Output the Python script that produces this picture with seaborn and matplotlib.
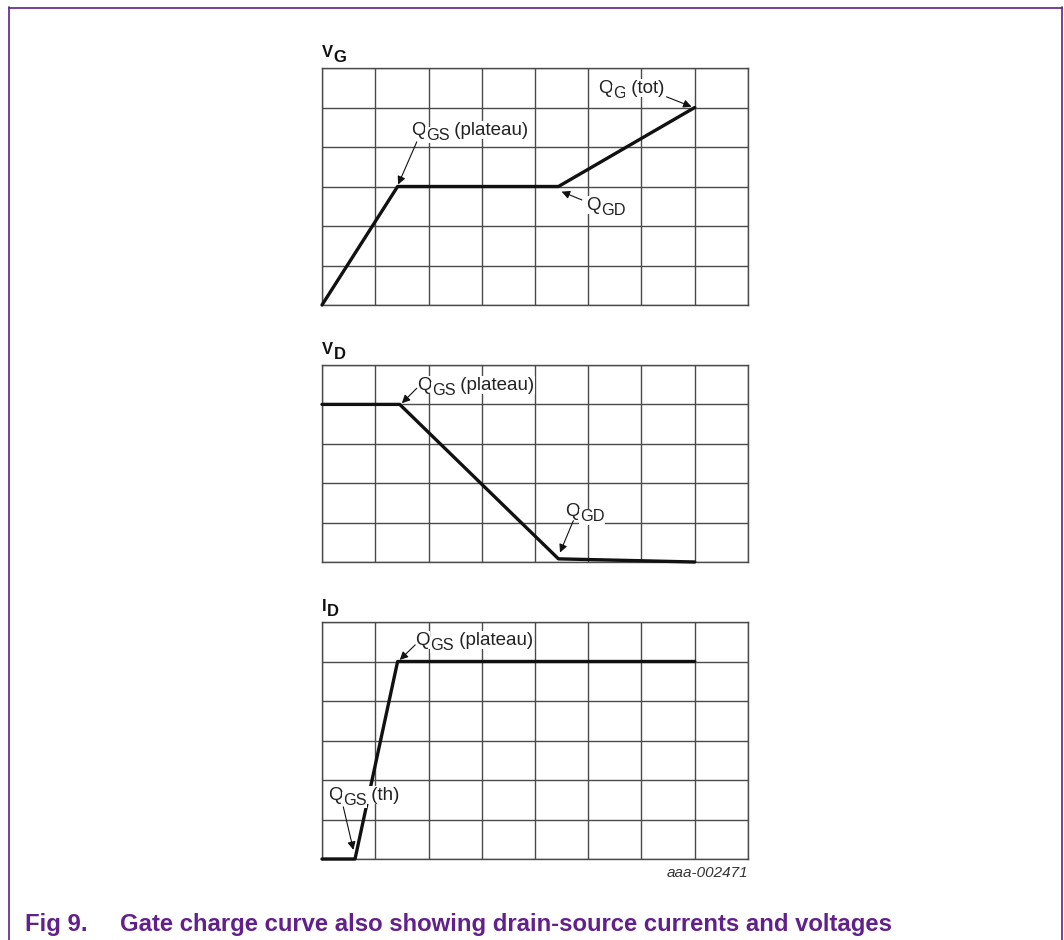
import matplotlib
matplotlib.use("Agg")
import matplotlib.pyplot as plt
from matplotlib.lines import Line2D
import seaborn as sns
import pandas as pd

# Gate charge waveforms (x in grid divisions of charge)
q_vg = [0.0, 1.42, 4.44, 7.0]
v_g = [0.0, 3.0, 3.0, 5.0]

q_vd = [0.0, 1.46, 4.44, 7.0]
v_d = [4.0, 4.0, 0.08, 0.0]

q_id = [0.0, 0.62, 1.42, 7.0]
i_d = [0.0, 0.0, 5.0, 5.0]

panel_names = [("V", "G"), ("V", "D"), ("I", "D")]
panel_rows = [6, 5, 6]
n_cols = 8

caption_num = "Fig 9."
caption_text = "Gate charge curve also showing drain-source currents and voltages"
drawing_id = "aaa-002471"

sns.set_style("white")
plt.rcParams["font.family"] = ["Liberation Sans", "DejaVu Sans"]

W, H = 1064, 940
fig = plt.figure(figsize=(W / 100, H / 100), dpi=100)

PURPLE = "#62208a"
GRID = "#4a4a4a"


def px_axes(left, top, right, bottom):
    return fig.add_axes([left / W, 1 - bottom / H, (right - left) / W, (bottom - top) / H])


axes = [
    px_axes(322, 68, 748, 305),
    px_axes(322, 365, 748, 562),
    px_axes(322, 622, 748, 859),
]

curves = [(q_vg, v_g), (q_vd, v_d), (q_id, i_d)]

for ax, (xs, ys), rows, (main, sub) in zip(axes, curves, panel_rows, panel_names):
    df = pd.DataFrame({"q": xs, "val": ys})
    sns.lineplot(data=df, x="q", y="val", ax=ax, sort=False, estimator=None,
                 color="#111111", lw=2.4, zorder=4, clip_on=False)
    ax.set_xlim(0, n_cols)
    ax.set_ylim(0, rows)
    ax.set_xticks(range(n_cols + 1))
    ax.set_yticks(range(rows + 1))
    ax.grid(True, color=GRID, lw=1.0)
    ax.tick_params(length=0, labelbottom=False, labelleft=False)
    ax.set_xlabel("")
    ax.set_ylabel("")
    for s in ax.spines.values():
        s.set_color(GRID)
        s.set_linewidth(1.0)
    # panel title with a full-size subscript
    t = ax.annotate(main, xy=(0, 1), xycoords="axes fraction", xytext=(0, 6),
                    textcoords="offset points", ha="left", va="bottom",
                    fontsize=12, fontweight="bold", color="#111111")
    ax.annotate(sub, xy=(1, 0), xycoords=t, xytext=(0.5, -3.8),
                textcoords="offset points", ha="left", va="bottom",
                fontsize=12, fontweight="bold", color="#111111")


def q_label(ax, x, y, sub, rest, size=13.5):
    box = dict(facecolor="white", edgecolor="none", pad=0.3)
    t1 = ax.text(x, y, "Q", fontsize=size, ha="left", va="center",
                 color="#222222", bbox=box, zorder=6)
    t2 = ax.annotate(sub, xy=(1, 0), xycoords=t1, xytext=(0.3, -3),
                     textcoords="offset points", ha="left", va="bottom",
                     fontsize=size * 0.87, color="#222222", bbox=box, zorder=6)
    ax.annotate(rest, xy=(1, 0), xycoords=t2, xytext=(0, 3),
                textcoords="offset points", ha="left", va="bottom",
                fontsize=size, color="#222222", bbox=box, zorder=6)


def pointer(ax, tail, head):
    ax.annotate("", xy=head, xytext=tail,
                arrowprops=dict(arrowstyle="-|>", color="#111111", lw=0.8,
                                mutation_scale=12, shrinkA=0, shrinkB=0),
                zorder=7)


a1, a2, a3 = axes

q_label(a1, 1.67, 4.43, "GS", " (plateau)")
pointer(a1, (1.78, 4.13), (1.43, 3.05))
q_label(a1, 5.18, 5.49, "G", " (tot)")
pointer(a1, (6.47, 5.27), (6.94, 5.02))
q_label(a1, 4.96, 2.53, "GD", "")
pointer(a1, (4.88, 2.66), (4.50, 2.87))

q_label(a2, 1.78, 4.49, "GS", " (plateau)")
pointer(a2, (1.78, 4.41), (1.50, 4.03))
q_label(a2, 4.56, 1.28, "GD", "")
pointer(a2, (4.72, 1.05), (4.47, 0.24))

q_label(a3, 1.75, 5.54, "GS", " (plateau)")
pointer(a3, (1.75, 5.42), (1.46, 5.04))
q_label(a3, 0.11, 1.62, "GS", " (th)")
pointer(a3, (0.40, 1.32), (0.59, 0.23))

a3.annotate(drawing_id, xy=(1, 0), xycoords="axes fraction", xytext=(0, -5),
            textcoords="offset points", ha="right", va="top",
            fontsize=11, style="italic", color="#333333")

# page frame
fig.add_artist(Line2D([8.5 / W, 8.5 / W], [0, 1 - 7 / H], transform=fig.transFigure,
                      color=PURPLE, lw=1.2))
fig.add_artist(Line2D([8.5 / W, 1062 / W], [1 - 7.5 / H, 1 - 7.5 / H],
                      transform=fig.transFigure, color=PURPLE, lw=1.2))
fig.add_artist(Line2D([1061.5 / W, 1061.5 / W], [0, 1 - 7 / H], transform=fig.transFigure,
                      color=PURPLE, lw=1.2))

fig.text(25 / W, 1 - 924 / H, caption_num, fontsize=17.2, fontweight="bold",
         color=PURPLE, ha="left", va="center")
fig.text(120 / W, 1 - 924 / H, caption_text, fontsize=17.2, fontweight="bold",
         color=PURPLE, ha="left", va="center")

fig.savefig("out.png", dpi=100)
